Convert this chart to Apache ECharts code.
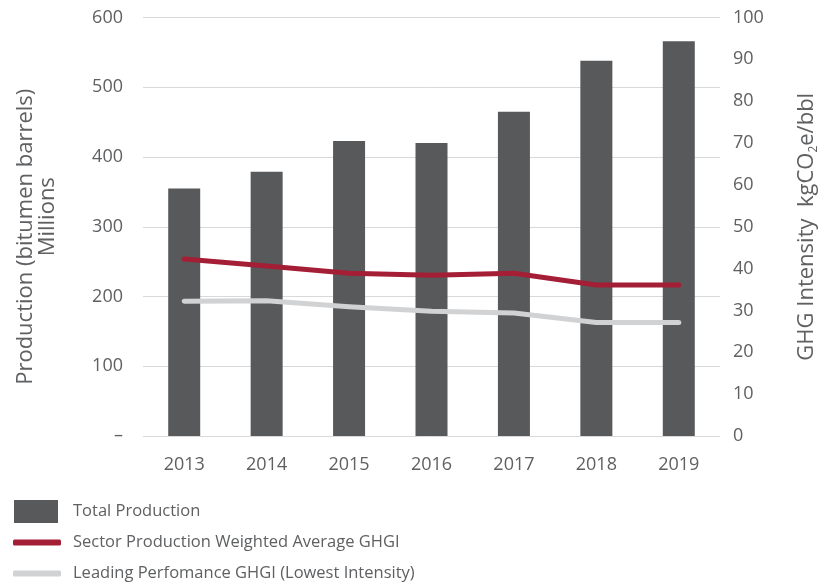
<!DOCTYPE html>
<html>
<head>
<meta charset="utf-8">
<script src="https://cdn.jsdelivr.net/npm/echarts@6/dist/echarts.min.js"></script>
<style>
  html, body { margin: 0; padding: 0; background: #fff; }
  #chart { width: 823px; height: 584px; }
</style>
</head>
<body>
<div id="chart"></div>
<script>
var years = ['2013', '2014', '2015', '2016', '2017', '2018', '2019'];
var totalProduction = [355, 379, 423, 420, 465, 538, 566];
var sectorGhgi = [42.3, 40.6, 38.9, 38.4, 38.9, 36.1, 36.1];
var leadingGhgi = [32.2, 32.3, 30.9, 29.8, 29.4, 27.1, 27.1];

var txt = '#5f6062';
var font = '"Open Sans", Lato, sans-serif';

var myChart = echarts.init(document.getElementById('chart'));
var option = {
    animation: false,
    textStyle: { fontFamily: font, color: txt },
    grid: { left: 143, right: 103, top: 17.5, bottom: 148, containLabel: false, outerBoundsMode: 'none' },
    legend: [
        {
            data: ['Total Production'], orient: 'vertical', left: 14, top: 500, padding: 0,
            itemWidth: 44, itemHeight: 23, itemGap: 0, icon: 'rect', selectedMode: false,
            textStyle: { fontFamily: font, fontSize: 16.5, color: txt, padding: [0, 0, 0, 10] }
        },
        {
            data: ['Sector Production Weighted Average GHGI'], orient: 'vertical', left: 13, top: 534, padding: 0,
            itemWidth: 48, itemHeight: 6, icon: 'roundRect', selectedMode: false,
            textStyle: { fontFamily: font, fontSize: 16.5, color: txt, padding: [0, 0, 0, 7] }
        },
        {
            data: ['Leading Perfomance GHGI (Lowest Intensity)'], orient: 'vertical', left: 13, top: 565, padding: 0,
            itemWidth: 48, itemHeight: 6, icon: 'roundRect', selectedMode: false,
            textStyle: { fontFamily: font, fontSize: 16.5, color: txt, padding: [0, 0, 0, 7] }
        }
    ],
    xAxis: {
        type: 'category',
        data: years,
        axisLine: { show: false },
        axisTick: { show: false },
        axisLabel: { color: txt, fontSize: 18, margin: 20 }
    },
    yAxis: [
        {
            type: 'value', min: 0, max: 600, interval: 100,
            name: '{a|Production (bitumen barrels)}\n{b|Millions}',
            nameLocation: 'middle', nameGap: 84, nameRotate: 90,
            nameTextStyle: {
                fontSize: 22, color: txt, lineHeight: 22,
                rich: {
                    a: { fontSize: 22, color: txt, lineHeight: 22, padding: [0, 20, 0, 0] },
                    b: { fontSize: 22, color: txt, lineHeight: 22, padding: [0, 0, 0, 20] }
                }
            },
            axisLine: { show: false }, axisTick: { show: false },
            axisLabel: {
                color: txt, fontSize: 18, margin: 20,
                formatter: function (v) { return v === 0 ? '–' : v; }
            },
            splitLine: { lineStyle: { color: '#d9d9d9', width: 1 } }
        },
        {
            type: 'value', min: 0, max: 100, interval: 10, position: 'right',
            name: 'GHG Intensity  kgCO{sub|2}e/bbl',
            nameLocation: 'middle', nameGap: 74, nameRotate: 90,
            nameTextStyle: {
                fontSize: 22, color: txt,
                rich: { sub: { fontSize: 12, color: txt, verticalAlign: 'bottom', padding: [14, 0, 0, 0] } }
            },
            axisLine: { show: false }, axisTick: { show: false },
            axisLabel: { color: txt, fontSize: 18, margin: 13 },
            splitLine: { show: false }
        }
    ],
    series: [
        {
            name: 'Total Production', type: 'bar', data: totalProduction,
            barWidth: 32, itemStyle: { color: '#58595b' }
        },
        {
            name: 'Sector Production Weighted Average GHGI', type: 'line', yAxisIndex: 1,
            data: sectorGhgi, symbol: 'none',
            itemStyle: { color: '#a41e35' },
            lineStyle: { color: '#a41e35', width: 5, cap: 'round', join: 'round' }
        },
        {
            name: 'Leading Perfomance GHGI (Lowest Intensity)', type: 'line', yAxisIndex: 1,
            data: leadingGhgi, symbol: 'none',
            itemStyle: { color: '#d1d2d4' },
            lineStyle: { color: '#d1d2d4', width: 5, cap: 'round', join: 'round' }
        }
    ]
};
myChart.setOption(option);
</script>
</body>
</html>
